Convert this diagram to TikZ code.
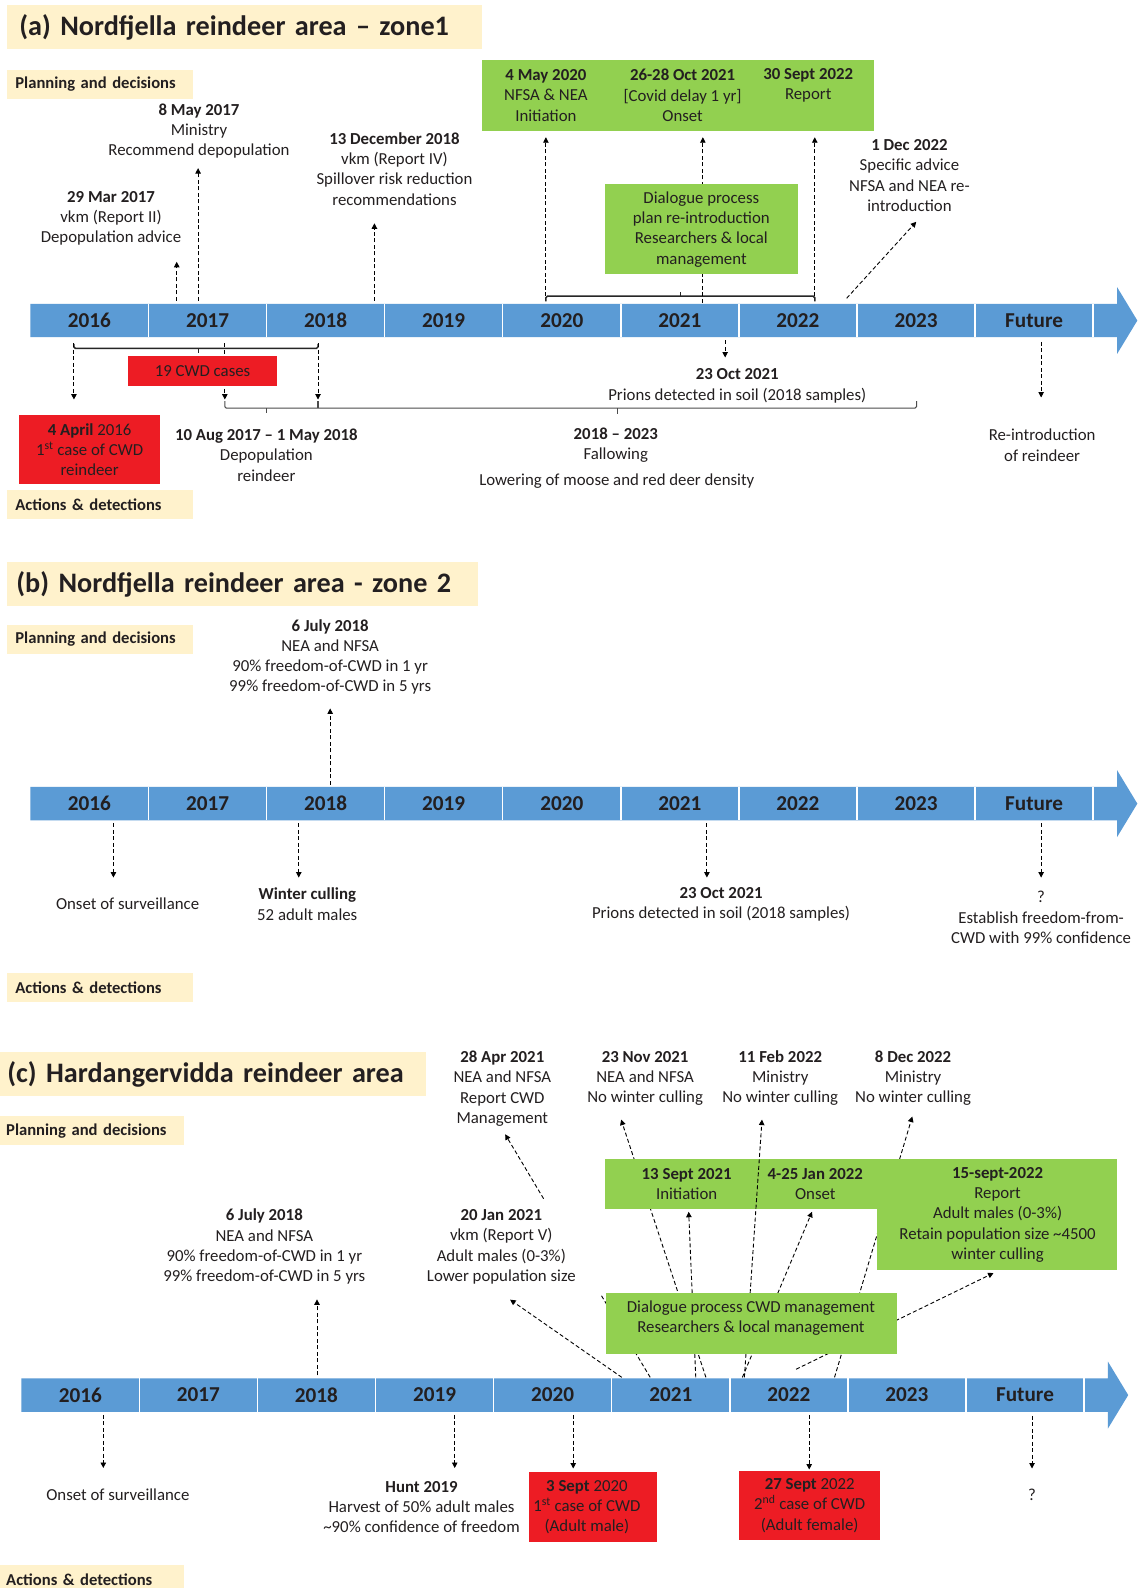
\documentclass[tikz,border=0pt]{standalone}
\usepackage{fontspec}
\setmainfont{Carlito}
\usetikzlibrary{arrows.meta}
\definecolor{txt}{HTML}{231F20}
\definecolor{beige}{HTML}{FFF2CC}
\definecolor{tlblue}{HTML}{5B9BD5}
\definecolor{gfill}{HTML}{92D050}
\definecolor{rfill}{HTML}{ED1C24}
\newcommand\rf{\fontsize{16.8}{20.25}\selectfont}
\newcommand\tagf{\fontsize{16.6}{20.25}\selectfont\bfseries}
\newcommand\yf{\fontsize{21.2}{24}\selectfont\bfseries}
\newcommand\ttf{\fontsize{28.2}{32}\selectfont\bfseries}
\def\U{1.0125pt}
\newcommand\mytimeline[3]{%
  \fill[tlblue] (#1,#2) -- ({#1+1073},#2) -- ({#1+1073},{#2-16.5}) -- ({#1+1093},{#2+16.5}) -- ({#1+1073},{#2+49.5}) -- ({#1+1073},{#2+33}) -- (#1,{#2+33}) -- cycle;
  \foreach \i in {1,...,9} \draw[white, line width=1.5pt] ({#1+\i*116.6},#2) -- ({#1+\i*116.6},{#2+33});
  \foreach \lab [count=\i from 0] in {2016,2017,2018,2019,2020,2021,2022,2023,Future}
    \node[yrlbl] (#3\lab) at ({#1+(\i+0.5)*116.6},{#2+16.5}) {\lab};
}
\tikzset{
  lbl/.style={font=\rf, text=txt, align=center, inner sep=0pt},
  yrlbl/.style={font=\yf, text=txt, inner sep=0pt},
  darr/.style={draw=black, line width=0.9pt, dash pattern=on 4pt off 2.5pt, -{Triangle[length=5.5pt,width=5.5pt]}},
  brk/.style={draw=black!85, line width=1.5pt, rounded corners=1.5pt},
  brkthin/.style={draw=black!70, line width=1.1pt, rounded corners=1.5pt},
  gbox/.style={fill=gfill, draw=none, inner sep=0pt},
  rbox/.style={fill=rfill, draw=none, inner sep=0pt, font=\rf, text=txt, align=center},
  sz/.style 2 args={minimum width=#1*\U, minimum height=#2*\U},
  tag/.style={fill=beige, anchor=north west, font=\tagf, text=txt, inner ysep=0pt, minimum height=28.5*\U, align=left},
  titlebox/.style={fill=beige, anchor=north west, font=\ttf, text=txt, inner ysep=0pt, minimum height=43*\U, align=left},
}
\begin{document}
\begin{tikzpicture}[x=1.0125pt, y=-1.0125pt]
\useasboundingbox (0,0) rectangle (1123,1568);
\fill[white] (0,0) rectangle (1123,1568);

% ================= (a) =================
\node[titlebox, text width=450.6pt, inner xsep=12.15pt] (ta) at (7,5) {(a) Nordfjella reindeer area – zone1};
\node[tag, text width=169.1pt, inner xsep=8.1pt] (pa) at (7,69) {Planning and decisions};
\node[tag, text width=169.1pt, inner xsep=8.1pt] (aa) at (7,483.5) {Actions \& detections};
\mytimeline{30}{300}{a}

\node[lbl] (a29mar) at (109.6,215.8) {\textbf{29 Mar 2017}\\vkm (Report II)\\Depopulation advice};
\node[lbl] (a8may) at (196.5,129.3) {\textbf{8 May 2017}\\Ministry\\Recommend depopulation};
\node[lbl] (a13dec) at (389.5,166.9) {\textbf{13 December 2018}\\vkm (Report IV)\\Spillover risk reduction\\recommendations};
\node[lbl] (a1dec) at (898,173.4) {\textbf{1 Dec 2022}\\Specific advice\\NFSA and NEA re-\\introduction};

\coordinate (a1s) at (174.5,297); \coordinate (a1e) at (174.5,258.5);
\coordinate (a2s) at (195.6,297); \coordinate (a2e) at (195.6,166);
\coordinate (a3s) at (369.7,297); \coordinate (a3e) at (369.7,220.5);
\draw[darr] (a1s) -- (a1e);
\draw[darr] (a2s) -- (a2e);
\draw[darr] (a3s) -- (a3e);

\coordinate (bkL) at (539,292.5); \coordinate (bkR) at (804.5,292.5);
\coordinate (bkM) at (672,292.5);
\draw[brk] (539,297.5) -- (bkL) -- (bkR) -- (804.5,297.5);
\draw[brk] (bkM) -- ++(0,-4.5);
\coordinate (g1e) at (539,135.5); \coordinate (g2e) at (694,135.5); \coordinate (g3e) at (804.5,135.5);
\coordinate (g2s) at (694,299);
\draw[darr] (bkL) -- (g1e);
\draw[darr] (bkR) -- (g3e);
\draw[darr] (g2s) -- (g2e);
\coordinate (d1s) at (836,294.5); \coordinate (d1e) at (904.7,219);
\draw[darr] (d1s) -- (d1e);

\node[gbox, sz={387}{70}] (ga) at (669.5,94) {};
\node[lbl] (ga1) at (539,94.2) {\textbf{4 May 2020}\\NFSA \& NEA\\Initiation};
\node[lbl] (ga2) at (674,94.2) {\textbf{26-28 Oct 2021}\\{[Covid delay 1 yr]}\\Onset};
\node[lbl] (ga3) at (798,84.3) {\textbf{30 Sept 2022}\\Report};
\node[gbox, sz={191}{89}, font=\rf, text=txt, align=center] (dlga) at (692.5,226.5) {Dialogue process\\plan re-introduction\\Researchers \& local\\management};

% lower (a)
\draw[brk] (73,339.5) -- (73,344) -- (314,344) -- (314,339.5);
\draw[brk] (196,344) -- (196,348.5);
\coordinate (l1s) at (73,339); \coordinate (l1e) at (73,394.5);
\coordinate (l2s) at (222,339); \coordinate (l2e) at (222,394.5);
\coordinate (l3s) at (314,339); \coordinate (l3e) at (314,394.5);
\draw[darr] (l1s) -- (l1e);
\draw[darr] (l2s) -- (l2e);
\draw[darr] (l3s) -- (l3e);
\node[rbox, sz={148}{29}] (a19) at (200,366.5) {19 CWD cases};
\draw[brkthin] (222,396) -- (222,403) -- (905,403) -- (905,396);
\draw[brkthin] (314,396) -- (314,403);
\draw[brkthin] (263,403) -- (263,408);
\draw[brkthin] (610,403) -- (610,409);

\node[rbox, sz={139}{68}] (a4apr) at (88.5,444) {\textbf{4 April} 2016\\1\textsuperscript{st} case of CWD\\reindeer};
\node[lbl] (a10aug) at (263,449.4) {\textbf{10 Aug 2017 – 1 May 2018}\\Depopulation\\reindeer};
\node[lbl] (a1823) at (608,439.5) {\textbf{2018 – 2023}\\Fallowing};
\node[lbl] (alow) at (609,475) {Lowering of moose and red deer density};
\coordinate (o1s) at (716,336); \coordinate (o1e) at (716,353);
\draw[darr] (o1s) -- (o1e);
\node[lbl] (a23oct) at (728,381) {\textbf{23 Oct 2021}\\Prions detected in soil (2018 samples)};
\coordinate (f1s) at (1028,337.5); \coordinate (f1e) at (1028,392.5);
\draw[darr] (f1s) -- (f1e);
\node[lbl] (areint) at (1029,439.5) {Re-introduction\\of reindeer};

% ================= (b) =================
\node[titlebox, text width=452.6pt, inner xsep=9.1pt] (tb) at (7,555) {(b) Nordfjella reindeer area - zone 2};
\node[tag, text width=169.1pt, inner xsep=8.1pt] (pb) at (7,617) {Planning and decisions};
\node[lbl] (b6jul) at (326,648.6) {\textbf{6 July 2018}\\NEA and NFSA\\90\% freedom-of-CWD in 1 yr\\99\% freedom-of-CWD in 5 yrs};
\mytimeline{30}{777}{b}
\coordinate (bu1s) at (326,775); \coordinate (bu1e) at (326,699.5);
\draw[darr] (bu1s) -- (bu1e);
\coordinate (bd1s) at (112,813); \coordinate (bd1e) at (112,866.5);
\coordinate (bd2s) at (295,813); \coordinate (bd2e) at (295,866.5);
\coordinate (bd3s) at (698,813); \coordinate (bd3e) at (698,866.5);
\coordinate (bd4s) at (1028,813); \coordinate (bd4e) at (1028,866.5);
\draw[darr] (bd1s) -- (bd1e);
\draw[darr] (bd2s) -- (bd2e);
\draw[darr] (bd3s) -- (bd3e);
\draw[darr] (bd4s) -- (bd4e);
\node[lbl] (bons) at (126,892.8) {Onset of surveillance};
\node[lbl] (bwin) at (303.4,892.8) {\textbf{Winter culling}\\52 adult males};
\node[lbl] (boct) at (712,892.8) {\textbf{23 Oct 2021}\\Prions detected in soil (2018 samples)};
\node[lbl] (bfut) at (1028,906) {?\\Establish freedom-from-\\CWD with 99\% confidence};
\node[tag, text width=169.1pt, inner xsep=8.1pt] (ab) at (7,961) {Actions \& detections};

% ================= (c) =================
\node[titlebox, text width=411pt, inner xsep=7.1pt] (tc) at (0,1039) {(c) Hardangervidda reindeer area};
\node[tag, text width=171.3pt, inner xsep=6pt] (pc) at (0,1102) {Planning and decisions};
\mytimeline{21}{1361}{c}
\node[lbl] (c6jul) at (261,1231) {\textbf{6 July 2018}\\NEA and NFSA\\90\% freedom-of-CWD in 1 yr\\99\% freedom-of-CWD in 5 yrs};
\coordinate (cu1s) at (313,1358); \coordinate (cu1e) at (313,1283);
\draw[darr] (cu1s) -- (cu1e);

\node[lbl] (c28apr) at (496,1074.8) {\textbf{28 Apr 2021}\\NEA and NFSA\\Report CWD\\Management};
\node[lbl] (c23nov) at (637,1064.6) {\textbf{23 Nov 2021}\\NEA and NFSA\\No winter culling};
\node[lbl] (c11feb) at (770.4,1064.6) {\textbf{11 Feb 2022}\\Ministry\\No winter culling};
\node[lbl] (c8dec) at (901.6,1064.6) {\textbf{8 Dec 2022}\\Ministry\\No winter culling};

\coordinate (L1s) at (642,1360); \coordinate (L1e) at (498.8,1120);
\coordinate (L2s) at (614,1360); \coordinate (L2e) at (503.7,1283.3);
\coordinate (L3s) at (697,1360); \coordinate (L3e) at (613.3,1105.5);
\coordinate (L4s) at (687,1360); \coordinate (L4e) at (680,1196.5);
\coordinate (L5s) at (735,1360); \coordinate (L5e) at (752.4,1105.5);
\coordinate (L6s) at (733,1360); \coordinate (L6e) at (801.8,1196.5);
\coordinate (L7s) at (824,1360); \coordinate (L7e) at (900.8,1102.5);
\coordinate (L8s) at (786,1352); \coordinate (L8e) at (981,1257);
\draw[darr] (L1s) -- (L1e);
\node[lbl, fill=white, sz={206}{95}] (c20jan) at (495,1231) {\textbf{20 Jan 2021}\\vkm (Report V)\\Adult males (0-3\%)\\Lower population size};
\draw[darr] (L2s) -- (L2e);
\draw[darr] (L3s) -- (L3e);
\draw[darr] (L4s) -- (L4e);
\draw[darr] (L6s) -- (L6e);
\draw[darr] (L7s) -- (L7e);
\draw[darr] (L8s) -- (L8e);

\node[gbox, sz={506}{50}] (gc1) at (850,1169) {};
\node[gbox, sz={237}{110}] (gc2) at (984.5,1198.9) {};
\node[lbl] (gc1a) at (678,1169) {\textbf{13 Sept 2021}\\Initiation};
\node[lbl] (gc1b) at (805,1169) {\textbf{4-25 Jan 2022}\\Onset};
\node[lbl] (gc2t) at (985,1199.6) {\textbf{15-sept-2022}\\Report\\Adult males (0-3\%)\\Retain population size \textasciitilde4500\\winter culling};
\draw[darr] (L5s) -- (L5e);
\node[gbox, sz={287}{60}] (dlgc) at (742,1307) {};
\node[lbl] (dlgct) at (741.5,1301.3) {Dialogue process CWD management\\Researchers \& local management};

% lower (c)
\coordinate (cd1s) at (102,1397); \coordinate (cd1e) at (102,1449.5);
\coordinate (cd2s) at (449,1397); \coordinate (cd2e) at (449,1449.5);
\coordinate (cd3s) at (566,1397); \coordinate (cd3e) at (566,1450);
\coordinate (cd4s) at (799,1397); \coordinate (cd4e) at (799,1451);
\coordinate (cd5s) at (1019,1398); \coordinate (cd5e) at (1019,1450);
\draw[darr] (cd1s) -- (cd1e);
\draw[darr] (cd2s) -- (cd2e);
\draw[darr] (cd3s) -- (cd3e);
\draw[darr] (cd4s) -- (cd4e);
\draw[darr] (cd5s) -- (cd5e);
\node[lbl] (cons) at (116.4,1475.6) {Onset of surveillance};
\node[lbl] (chunt) at (416.2,1488) {\textbf{Hunt 2019}\\Harvest of 50\% adult males\\\textasciitilde90\% confidence of freedom};
\node[rbox, sz={127}{69}] (c3box) at (585.5,1488.2) {};
\node[lbl] (c3sept) at (579.5,1488) {\textbf{3 Sept} 2020\\1\textsuperscript{st} case of CWD\\(Adult male)};
\node[rbox, sz={139}{69}] (c27sep) at (799.5,1486.5) {\textbf{27 Sept} 2022\\2\textsuperscript{nd} case of CWD\\(Adult female)};
\node[lbl] (cq) at (1019,1475.6) {?};
\node[tag, text width=171.3pt, inner xsep=6pt] (ac) at (0,1545) {Actions \& detections};
\end{tikzpicture}
\end{document}
